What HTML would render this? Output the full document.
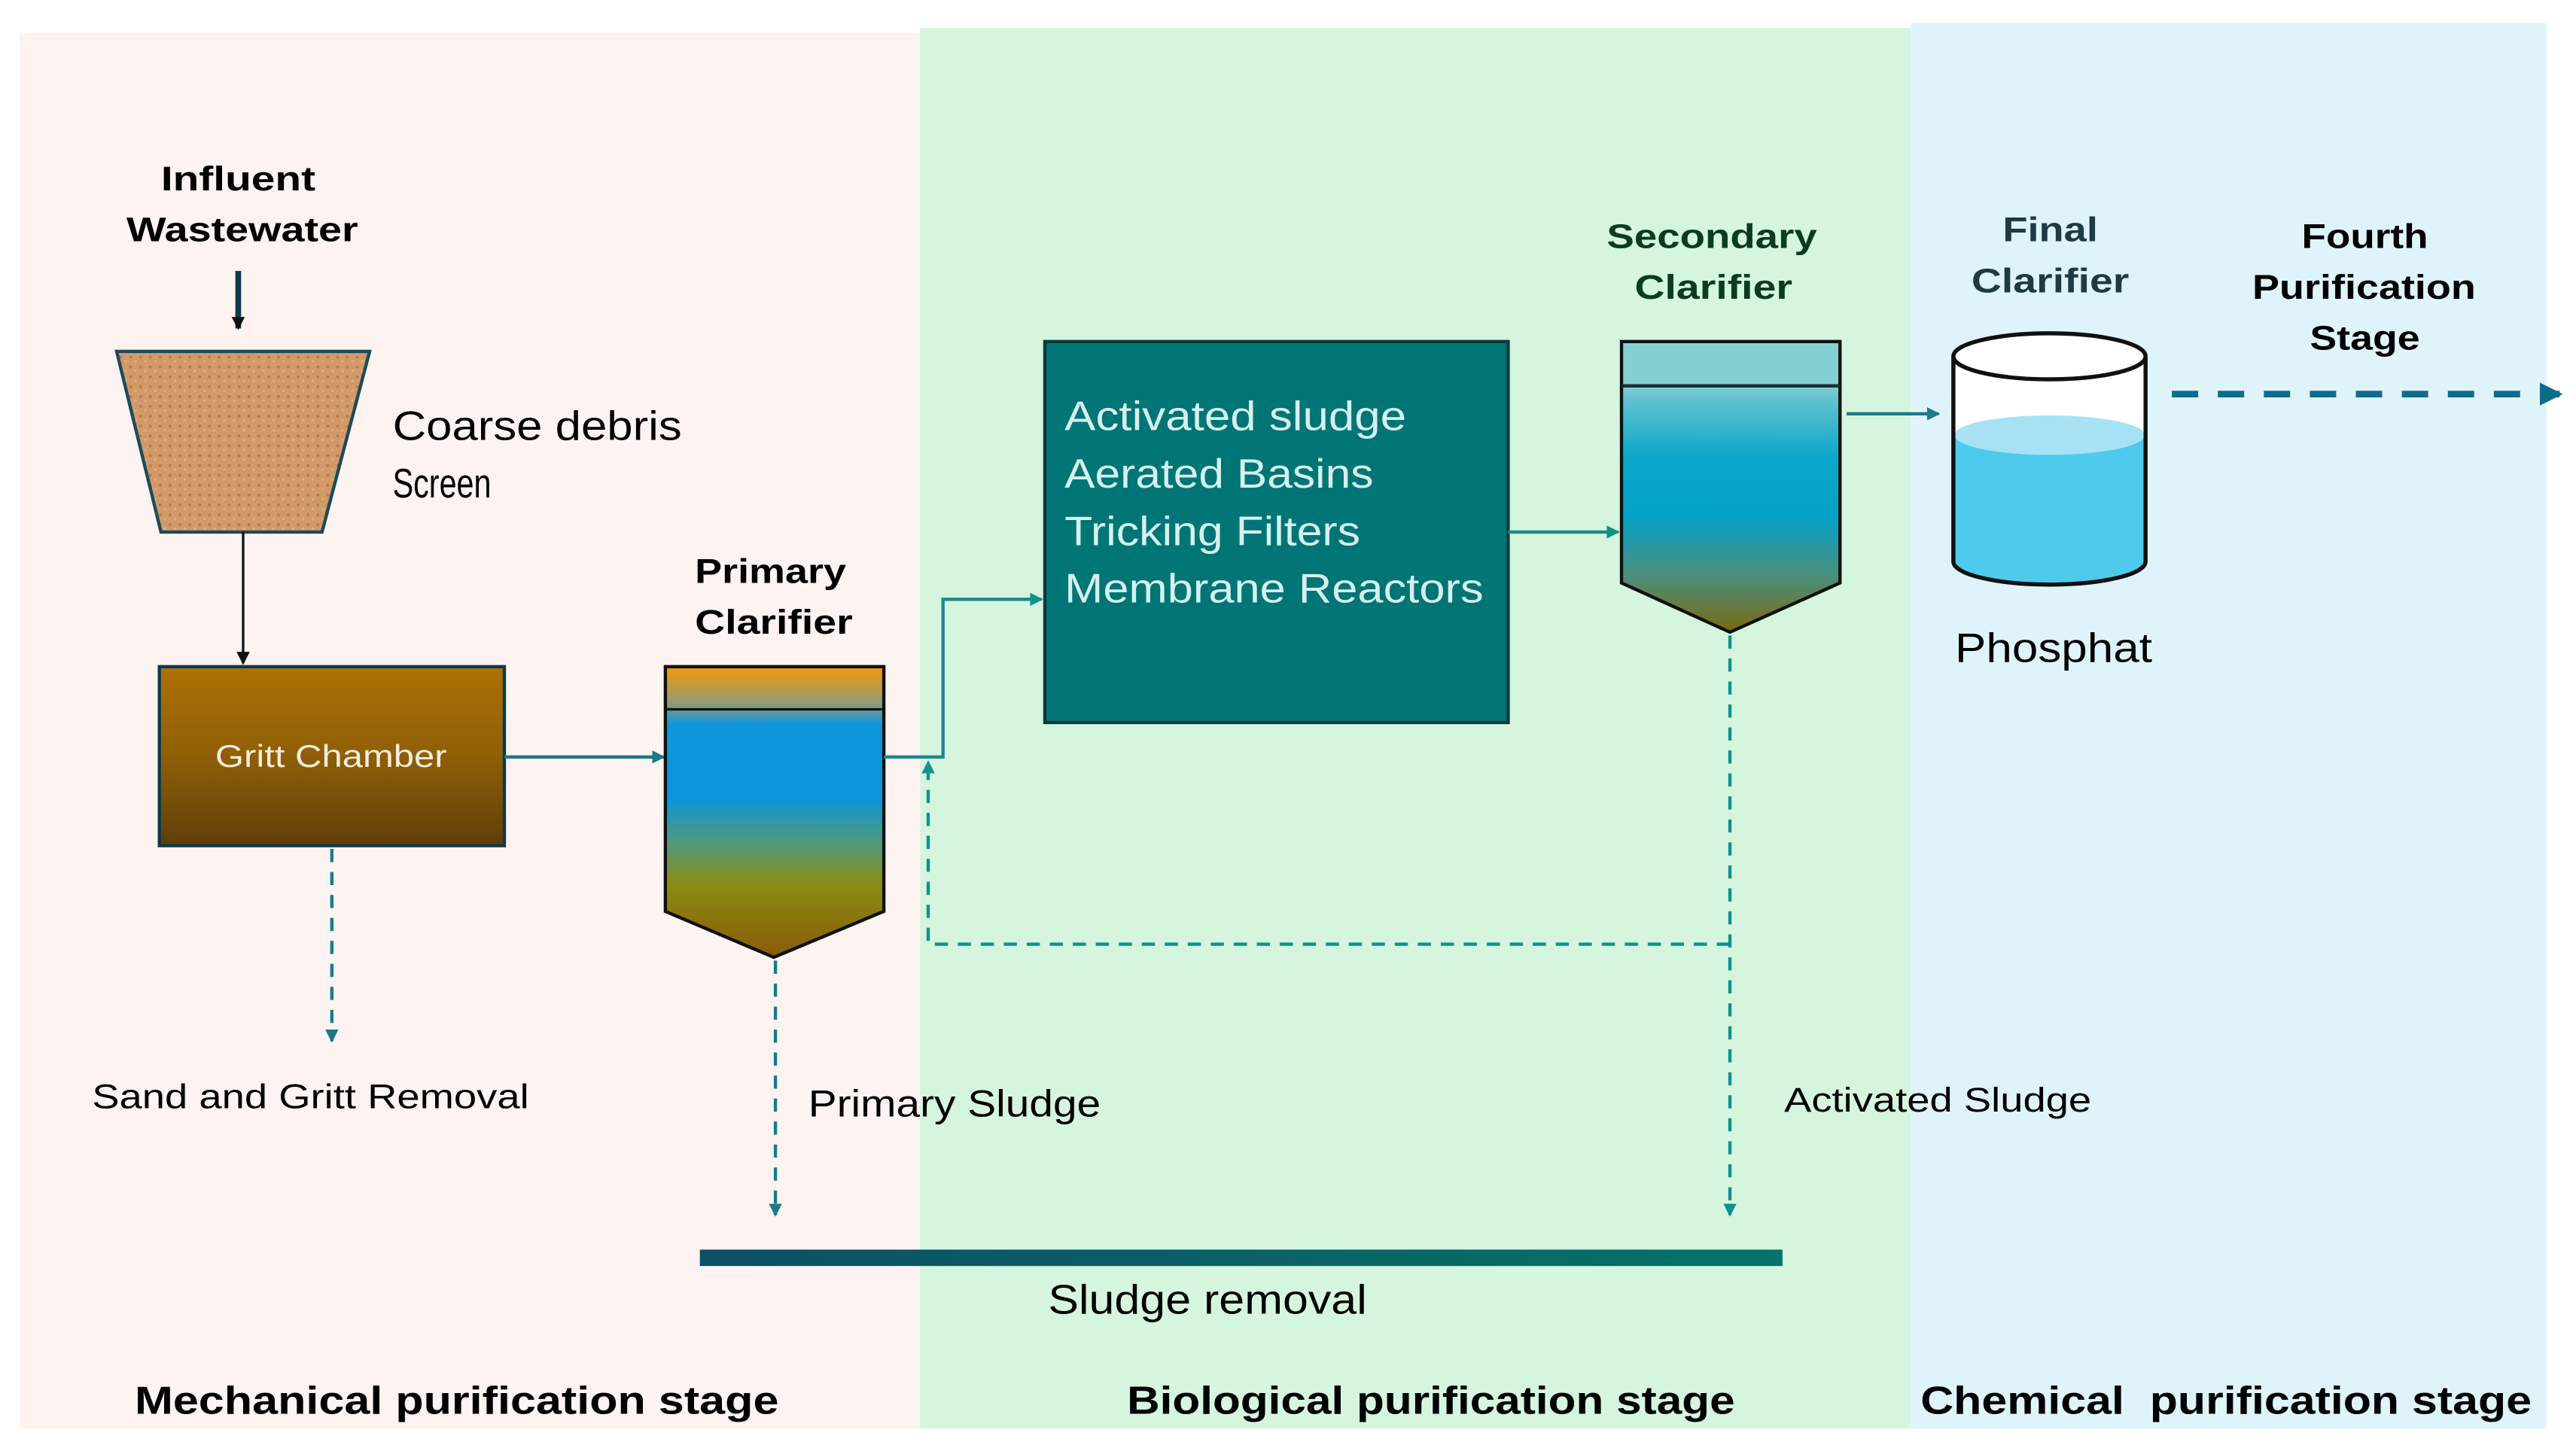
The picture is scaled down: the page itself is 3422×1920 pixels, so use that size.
<!DOCTYPE html>
<html><head><meta charset="utf-8"><style>html,body{margin:0;padding:0;background:#fff}svg{display:block}</style></head>
<body>
<svg width="3422" height="1920" viewBox="0 0 1568 880" preserveAspectRatio="none" xmlns="http://www.w3.org/2000/svg" font-family="Liberation Sans, sans-serif">
<defs>
<linearGradient id="gc" x1="0" y1="0" x2="0" y2="1"><stop offset="0" stop-color="#ad7104"/><stop offset="0.5" stop-color="#8f5f07"/><stop offset="1" stop-color="#5f3e08"/></linearGradient>
<linearGradient id="pc" x1="0" y1="0" x2="0" y2="1">
<stop offset="0" stop-color="#f39a05"/><stop offset="0.12" stop-color="#9a9a70"/><stop offset="0.2" stop-color="#0f96dc"/><stop offset="0.45" stop-color="#0b94dc"/><stop offset="0.6" stop-color="#4d9a80"/><stop offset="0.75" stop-color="#8a8d12"/><stop offset="1" stop-color="#8a5a0a"/></linearGradient>
<linearGradient id="sc" x1="0" y1="0" x2="0" y2="1">
<stop offset="0" stop-color="#84cfd4"/><stop offset="0.15" stop-color="#84cfd4"/><stop offset="0.2" stop-color="#60c2d0"/><stop offset="0.4" stop-color="#0aa7c8"/><stop offset="0.6" stop-color="#04a2c6"/><stop offset="0.8" stop-color="#4a9080"/><stop offset="1" stop-color="#7a6a10"/></linearGradient>
<linearGradient id="bar" x1="0" y1="0" x2="1" y2="0"><stop offset="0" stop-color="#0d4f66"/><stop offset="1" stop-color="#05736a"/></linearGradient>
<pattern id="sand" width="6" height="6" patternUnits="userSpaceOnUse"><rect width="6" height="6" fill="#d19a68"/><circle cx="1.5" cy="1.5" r="0.9" fill="#b87c4a"/><circle cx="4.5" cy="4" r="0.8" fill="#e0b080"/></pattern>
<marker id="at" markerWidth="8" markerHeight="8" refX="7" refY="4" orient="auto" markerUnits="userSpaceOnUse"><path d="M0,0 L8,4 L0,8 Z" fill="#1a7a8c"/></marker>
<marker id="ag" markerWidth="8" markerHeight="8" refX="7" refY="4" orient="auto" markerUnits="userSpaceOnUse"><path d="M0,0 L8,4 L0,8 Z" fill="#12908a"/></marker>
<marker id="ak" markerWidth="8" markerHeight="8" refX="7" refY="4" orient="auto" markerUnits="userSpaceOnUse"><path d="M0,0 L8,4 L0,8 Z" fill="#111"/></marker>
<marker id="ab" markerWidth="14" markerHeight="14" refX="12" refY="7" orient="auto" markerUnits="userSpaceOnUse"><path d="M0,0 L14,7 L0,14 Z" fill="#0f6b8a"/></marker>
</defs>
<rect width="1568" height="880" fill="#fff"/>
<rect x="12" y="20" width="548" height="850" fill="#fdf3f0"/>
<rect x="560" y="17" width="603" height="853" fill="#d5f5df"/>
<rect x="1163" y="14" width="387" height="856" fill="#dff4fa"/>

<text x="98" y="116" font-size="21" font-weight="bold" textLength="94" lengthAdjust="spacingAndGlyphs">Influent</text>
<text x="77" y="147" font-size="21" font-weight="bold" textLength="141" lengthAdjust="spacingAndGlyphs">Wastewater</text>
<line x1="145" y1="165" x2="145" y2="200" stroke="#0d3a4a" stroke-width="3.5" marker-end="url(#ak)"/>
<polygon points="71,214 225,214 196,324 98,324" fill="url(#sand)" stroke="#1d4a5a" stroke-width="2"/>
<text x="239" y="268" font-size="25" textLength="176" lengthAdjust="spacingAndGlyphs">Coarse debris</text>
<text x="239" y="303" font-size="25" textLength="60" lengthAdjust="spacingAndGlyphs">Screen</text>
<line x1="148" y1="324" x2="148" y2="404" stroke="#111" stroke-width="1.5" marker-end="url(#ak)"/>
<rect x="97" y="406" width="210" height="109" fill="url(#gc)" stroke="#0d3a4a" stroke-width="2"/>
<text x="131" y="467" font-size="19" fill="#f5ece0" textLength="141" lengthAdjust="spacingAndGlyphs">Gritt Chamber</text>
<line x1="307" y1="461" x2="404" y2="461" stroke="#1a7a8c" stroke-width="2" marker-end="url(#at)"/>
<line x1="202" y1="517" x2="202" y2="634" stroke="#1a7a8c" stroke-width="2" stroke-dasharray="8,6" marker-end="url(#at)"/>
<text x="56" y="675" font-size="21" textLength="266" lengthAdjust="spacingAndGlyphs">Sand and Gritt Removal</text>

<text x="423" y="355" font-size="21" font-weight="bold" textLength="92" lengthAdjust="spacingAndGlyphs">Primary</text>
<text x="423" y="386" font-size="21" font-weight="bold" textLength="96" lengthAdjust="spacingAndGlyphs">Clarifier</text>
<polygon points="405,406 538,406 538,555 471,583 405,555" fill="url(#pc)" stroke="#111" stroke-width="2"/>
<line x1="405" y1="432" x2="538" y2="432" stroke="#111" stroke-width="1.5"/>
<polyline points="538,461 574,461 574,365 634,365" fill="none" stroke="#1a8a8c" stroke-width="2" marker-end="url(#ag)"/>
<polyline points="1053,575 565,575 565,464" fill="none" stroke="#12908a" stroke-width="2" stroke-dasharray="8,6" marker-end="url(#ag)"/>
<line x1="472" y1="585" x2="472" y2="740" stroke="#1a7a8c" stroke-width="2" stroke-dasharray="8,6" marker-end="url(#at)"/>
<text x="492" y="680" font-size="23" textLength="178" lengthAdjust="spacingAndGlyphs">Primary Sludge</text>

<rect x="636" y="208" width="282" height="232" fill="#007575" stroke="#0a3a3a" stroke-width="2"/>
<g font-size="25" fill="#d5f0ee">
<text x="648" y="262" textLength="208" lengthAdjust="spacingAndGlyphs">Activated sludge</text>
<text x="648" y="297" textLength="188" lengthAdjust="spacingAndGlyphs">Aerated Basins</text>
<text x="648" y="332" textLength="180" lengthAdjust="spacingAndGlyphs">Tricking Filters</text>
<text x="648" y="367" textLength="255" lengthAdjust="spacingAndGlyphs">Membrane Reactors</text>
</g>
<line x1="918" y1="324" x2="985" y2="324" stroke="#1a8a8c" stroke-width="2" marker-end="url(#ag)"/>

<text x="978" y="151" font-size="21" font-weight="bold" fill="#0c3a22" textLength="128" lengthAdjust="spacingAndGlyphs">Secondary</text>
<text x="995" y="182" font-size="21" font-weight="bold" fill="#0c3a22" textLength="96" lengthAdjust="spacingAndGlyphs">Clarifier</text>
<polygon points="987,208 1120,208 1120,355 1053,385 987,355" fill="url(#sc)" stroke="#111" stroke-width="2"/>
<line x1="987" y1="235" x2="1120" y2="235" stroke="#1a2a2a" stroke-width="2"/>
<line x1="1053" y1="387" x2="1053" y2="740" stroke="#12908a" stroke-width="2" stroke-dasharray="8,6" marker-end="url(#ag)"/>
<text x="1086" y="677" font-size="21" textLength="187" lengthAdjust="spacingAndGlyphs">Activated Sludge</text>
<line x1="1124" y1="252" x2="1180" y2="252" stroke="#1a7a8c" stroke-width="2" marker-end="url(#at)"/>

<text x="1219" y="147" font-size="21" font-weight="bold" fill="#1f3a44" textLength="58" lengthAdjust="spacingAndGlyphs">Final</text>
<text x="1200" y="178" font-size="21" font-weight="bold" fill="#1f3a44" textLength="96" lengthAdjust="spacingAndGlyphs">Clarifier</text>
<path d="M1189,217 L1189,342 A58.5,14 0 0 0 1306,342 L1306,217" fill="#fff" stroke="none"/>
<path d="M1189,265 L1189,342 A58.5,14 0 0 0 1306,342 L1306,265 Z" fill="#4ecbec"/>
<ellipse cx="1247.5" cy="265" rx="58" ry="12" fill="#a6e2f4"/>
<path d="M1189,217 L1189,342 A58.5,14 0 0 0 1306,342 L1306,217" fill="none" stroke="#111" stroke-width="2.5"/>
<ellipse cx="1247.5" cy="217" rx="58.5" ry="14" fill="#fff" stroke="#111" stroke-width="2.5"/>
<text x="1190" y="403" font-size="25" textLength="120" lengthAdjust="spacingAndGlyphs">Phosphat</text>

<text x="1401" y="151" font-size="21" font-weight="bold" textLength="77" lengthAdjust="spacingAndGlyphs">Fourth</text>
<text x="1371" y="182" font-size="21" font-weight="bold" textLength="136" lengthAdjust="spacingAndGlyphs">Purification</text>
<text x="1406" y="213" font-size="21" font-weight="bold" textLength="67" lengthAdjust="spacingAndGlyphs">Stage</text>
<line x1="1322" y1="240" x2="1558" y2="240" stroke="#0f6b8a" stroke-width="4" stroke-dasharray="16,12" marker-end="url(#ab)"/>

<rect x="426" y="761" width="659" height="10" fill="url(#bar)"/>
<text x="638" y="800" font-size="25" textLength="194" lengthAdjust="spacingAndGlyphs">Sludge removal</text>

<g font-size="24" font-weight="bold">
<text x="82" y="861" textLength="392" lengthAdjust="spacingAndGlyphs">Mechanical purification stage</text>
<text x="686" y="861" textLength="370" lengthAdjust="spacingAndGlyphs">Biological purification stage</text>
<text x="1169" y="861" textLength="372" lengthAdjust="spacingAndGlyphs" xml:space="preserve">Chemical  purification stage</text>
</g>
</svg>
</body></html>
